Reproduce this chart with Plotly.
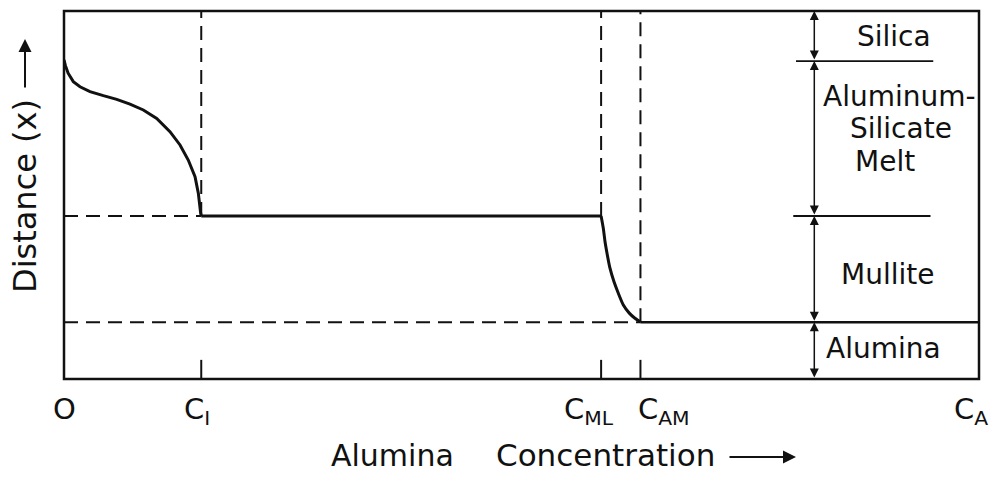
import plotly.graph_objects as go

# ---- data (concentration axis 0..100, distance axis 0..100) ----
c_labels = ["O", "C<sub>I</sub>", "C<sub>ML</sub>", "C<sub>AM</sub>", "C<sub>A</sub>"]
c_values = [0.0, 15.0, 58.7, 63.0, 100.0]
label_x = [0.0, 14.5, 57.4, 65.6, 99.1]

y_silica = 86.4      # silica / melt boundary
y_melt = 44.3        # melt / mullite boundary
y_mullite = 15.4     # mullite / alumina boundary

# concentration profile in the melt
melt_x = [0.0, 0.15, 0.45, 1.02, 1.75, 2.84, 4.30, 5.76, 7.21, 8.67, 10.13,
          11.58, 12.68, 13.58, 14.32, 14.68, 14.94, 15.0]
melt_y = [86.7, 85.2, 83.1, 80.8, 79.4, 78.1, 77.0, 76.0, 74.7, 73.1, 70.8,
          67.2, 63.6, 59.5, 55.0, 50.5, 45.0, 44.3]
# concentration profile in the mullite
mull_x = [58.7, 58.94, 59.13, 59.38, 59.67, 60.11, 60.58, 61.13, 61.78, 62.4, 62.95, 63.0]
mull_y = [44.3, 40.95, 37.3, 33.7, 30.1, 26.4, 23.3, 20.1, 17.9, 16.5, 15.6, 15.4]

x_arrow = 82.0
layer_names = ["Silica", "Aluminum-", "Silicate", "Melt", "Mullite", "Alumina"]
layer_x = [90.7, 91.3, 91.5, 89.7, 90.0, 89.6]
layer_y = [93.2, 76.8, 68.1, 59.1, 28.3, 8.4]

FONT = "DejaVu Sans"
BLACK = "#111111"

fig = go.Figure()
line = dict(color=BLACK, width=3)
fig.add_trace(go.Scatter(x=melt_x, y=melt_y, mode="lines",
                         line=dict(color=BLACK, width=3, shape="linear")))
fig.add_trace(go.Scatter(x=[c_values[1], c_values[2]], y=[y_melt, y_melt], mode="lines", line=line))
fig.add_trace(go.Scatter(x=mull_x, y=mull_y, mode="lines",
                         line=dict(color=BLACK, width=3, shape="spline", smoothing=0.6)))
fig.add_trace(go.Scatter(x=[c_values[3], c_values[4]], y=[y_mullite, y_mullite], mode="lines",
                         line=dict(color=BLACK, width=2.5)))

shapes = []
dash = "14px,8px"
dl = dict(color=BLACK, width=2, dash=dash)
# dashed guide lines
shapes.append(dict(type="line", x0=0, x1=c_values[1], y0=y_melt, y1=y_melt, line=dl))
shapes.append(dict(type="line", x0=0, x1=c_values[3], y0=y_mullite, y1=y_mullite, line=dl))
shapes.append(dict(type="line", x0=c_values[1], x1=c_values[1], y0=y_melt, y1=100, line=dl))
shapes.append(dict(type="line", x0=c_values[2], x1=c_values[2], y0=y_melt, y1=100, line=dl))
shapes.append(dict(type="line", x0=c_values[3], x1=c_values[3], y0=y_mullite, y1=100, line=dl))
# bottom ticks
for cv in c_values[1:4]:
    shapes.append(dict(type="line", x0=cv, x1=cv, y0=0, y1=5.2, line=dict(color=BLACK, width=2)))
# layer boundary lines on the right
shapes.append(dict(type="line", x0=80.0, x1=95.0, y0=y_silica, y1=y_silica,
                   line=dict(color=BLACK, width=1.8)))
shapes.append(dict(type="line", x0=79.7, x1=94.7, y0=y_melt, y1=y_melt,
                   line=dict(color=BLACK, width=1.8)))
# frame
shapes.append(dict(type="rect", xref="paper", yref="paper", x0=0, x1=1, y0=0, y1=1,
                   line=dict(color=BLACK, width=2.5)))

ann = []
# double arrows for layer thicknesses
bounds = [100, y_silica, y_melt, y_mullite, 0]
for top, bot in zip(bounds[:-1], bounds[1:]):
    ann.append(dict(x=x_arrow, y=top, ax=x_arrow, ay=bot, xref="x", yref="y",
                    axref="x", ayref="y", text="", showarrow=True,
                    arrowside="end+start", arrowhead=2, arrowsize=1.2,
                    arrowwidth=1.5, arrowcolor=BLACK))
for name, lx, ly in zip(layer_names, layer_x, layer_y):
    ann.append(dict(x=lx, y=ly, xref="x", yref="y", text=name, showarrow=False,
                    font=dict(family=FONT, size=28, color=BLACK),
                    xanchor="center", yanchor="middle"))
# concentration labels
for lab, lx in zip(c_labels, label_x):
    ann.append(dict(x=lx, y=-0.03, xref="x", yref="paper", text=lab, showarrow=False,
                    font=dict(family=FONT, size=29, color=BLACK),
                    xanchor="center", yanchor="top"))
# x title
ann.append(dict(x=(392 - 64) / 915, y=(379 - 455) / 368, xref="paper", yref="paper",
                text="Alumina", showarrow=False, xanchor="center", yanchor="middle",
                font=dict(family=FONT, size=30, color=BLACK)))
ann.append(dict(x=(605 - 64) / 915, y=(379 - 455) / 368, xref="paper", yref="paper",
                text="Concentration", showarrow=False, xanchor="center", yanchor="middle",
                font=dict(family=FONT, size=31, color=BLACK)))
ann.append(dict(x=(796 - 64) / 915, y=(379 - 457) / 368, xref="paper", yref="paper",
                ax=-68, ay=0, text="", showarrow=True, arrowhead=2, arrowsize=1.3,
                arrowwidth=2, arrowcolor=BLACK))
# y title
ann.append(dict(x=(25 - 64) / 915, y=(379 - 196) / 368, xref="paper", yref="paper",
                text="Distance (x)", showarrow=False, textangle=-90,
                xanchor="center", yanchor="middle",
                font=dict(family=FONT, size=32, color=BLACK)))
ann.append(dict(x=(25 - 64) / 915, y=(379 - 39) / 368, xref="paper", yref="paper",
                ax=0, ay=50, text="", showarrow=True, arrowhead=2, arrowsize=1.3,
                arrowwidth=2, arrowcolor=BLACK))

fig.update_layout(
    width=998, height=478,
    margin=dict(l=64, r=19, t=11, b=99),
    paper_bgcolor="white", plot_bgcolor="white",
    showlegend=False,
    shapes=shapes, annotations=ann,
    xaxis=dict(range=[0, 100], showgrid=False, zeroline=False, showticklabels=False,
               ticks="", showline=False, fixedrange=True),
    yaxis=dict(range=[0, 100], showgrid=False, zeroline=False, showticklabels=False,
               ticks="", showline=False, fixedrange=True),
)
fig.write_html("out.html", config={"displayModeBar": False},
               post_script="document.body.style.margin='0';document.body.style.overflow='hidden';")
